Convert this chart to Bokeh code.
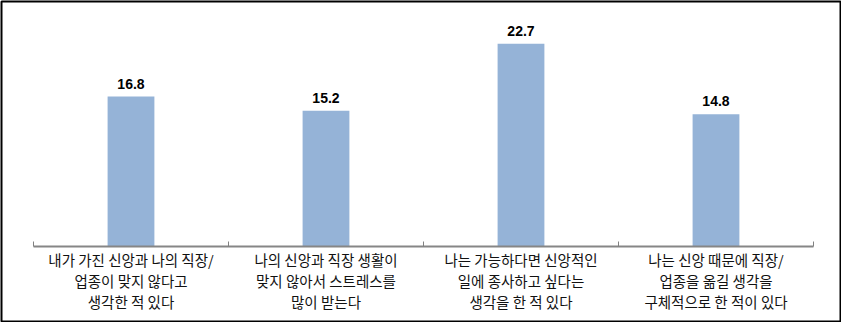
import math
from bokeh.plotting import figure
from bokeh.models import ColumnDataSource, Range1d
from bokeh.core.properties import value
from bokeh.embed import file_html
from bokeh.resources import INLINE

categories = [
    "내가 가진 신앙과 나의 직장/\n업종이 맞지 않다고\n생각한 적 있다",
    "나의 신앙과 직장 생활이\n맞지 않아서 스트레스를\n많이 받는다",
    "나는 가능하다면 신앙적인\n일에 종사하고 싶다는\n생각을 한 적 있다",
    "나는 신앙 때문에 직장/\n업종을 옮길 생각을\n구체적으로 한 적이 있다",
]
values = [16.8, 15.2, 22.7, 14.8]
value_labels = ["16.8", "15.2", "22.7", "14.8"]

n = len(categories)
positions = [i + 0.5 for i in range(n)]
boundaries = [float(i) for i in range(n + 1)]

src = ColumnDataSource(dict(x=positions, top=values, label=value_labels, cat=categories))
bsrc = ColumnDataSource(dict(x=boundaries, y=[0.0] * len(boundaries)))

# frame covers the whole canvas; ranges chosen so category span 0..4 sits at px 33..813
p = figure(width=841, height=322, output_backend="svg", toolbar_location=None,
           x_range=Range1d(-0.1641, 4.1385), y_range=Range1d(-8.40, 27.44),
           min_border=1, min_border_left=1, min_border_right=1,
           min_border_top=1, min_border_bottom=1)
p.outline_line_color = "#000000"
p.outline_line_width = 2
p.background_fill_color = "white"
p.border_fill_color = "white"
p.grid.visible = False
p.axis.visible = False

p.vbar(x="x", top="top", width=0.24, bottom=0, source=src,
       fill_color="#95B3D7", line_color=None)

# category axis line and boundary ticks
p.segment(x0=boundaries[0], y0=0, x1=boundaries[-1], y1=0,
          line_color="#868686", line_width=2)
p.ray(x="x", y="y", source=bsrc, length=5, length_units="screen",
      angle=math.pi / 2, line_color="#808080", line_width=1)

p.text(x="x", y="top", text="label", source=src, text_align="center",
       text_baseline="alphabetic", y_offset=-13,
       text_font=value("Liberation Sans"), text_font_style="bold",
       text_font_size="14px", text_color="#000000")

p.text(x="x", y=0, text="cat", source=src, text_align="center",
       text_baseline="top", y_offset=2,
       text_font=value("Noto Sans CJK KR"), text_font_size="14.5px",
       text_color="#111111", text_line_height=1.0)

open("out.html", "w").write(file_html(p, INLINE))
